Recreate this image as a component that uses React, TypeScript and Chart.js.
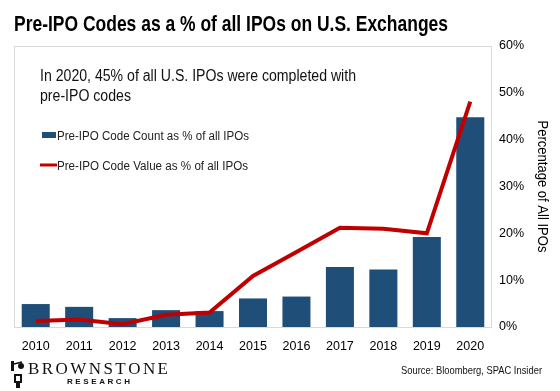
import React, { useEffect, useRef } from "react";
import { Chart, registerables } from "chart.js";

Chart.register(...registerables);

const years = ["2010", "2011", "2012", "2013", "2014", "2015", "2016", "2017", "2018", "2019", "2020"];
const countPct = [4.9, 4.3, 1.9, 3.6, 3.4, 6.1, 6.5, 12.8, 12.3, 19.2, 44.8];
const valuePct = [1.3, 1.6, 0.6, 2.6, 3.1, 10.9, 16.0, 21.2, 21.0, 20.0, 48.1];
const yTicks = [0, 10, 20, 30, 40, 50, 60];

const titleText = "Pre-IPO Codes as a % of all IPOs on U.S. Exchanges";
const noteLines = ["In 2020, 45% of all U.S. IPOs were completed with", "pre-IPO codes"];
const countLabel = "Pre-IPO Code Count as % of all IPOs";
const valueLabel = "Pre-IPO Code Value as % of all IPOs";
const axisTitle = "Percentage of All IPOs";
const sourceText = "Source: Bloomberg, SPAC Insider";

const BLUE = "#1f4e79";
const RED = "#c00000";
const SANS = "'Liberation Sans', Arial, sans-serif";

function spaced(ctx: CanvasRenderingContext2D, text: string, x: number, y: number, width: number) {
  const chars = text.split("");
  const total = chars.reduce((s, c) => s + ctx.measureText(c).width, 0);
  const gap = chars.length > 1 ? (width - total) / (chars.length - 1) : 0;
  let cx = x;
  for (const c of chars) {
    ctx.fillText(c, cx, y);
    cx += ctx.measureText(c).width + gap;
  }
}

function scaledText(ctx: CanvasRenderingContext2D, text: string, x: number, y: number, sx: number) {
  ctx.save();
  ctx.translate(x, y);
  ctx.scale(sx, 1);
  ctx.fillText(text, 0, 0);
  ctx.restore();
}

const overlay = {
  id: "overlay",
  beforeDatasetsDraw(chart: any) {
    const { ctx, chartArea } = chart;
    ctx.save();
    ctx.strokeStyle = "#d9d9d9";
    ctx.lineWidth = 1;
    ctx.strokeRect(chartArea.left + 0.5, chartArea.top + 0.5, chartArea.right - chartArea.left - 1, chartArea.bottom - chartArea.top);
    ctx.restore();
  },
  afterDraw(chart: any) {
    const { ctx, chartArea } = chart;
    ctx.save();
    ctx.fillStyle = "#000";
    ctx.textBaseline = "alphabetic";
    ctx.textAlign = "left";
    // title
    ctx.font = `bold 22px ${SANS}`;
    ctx.fillText(titleText, 14, 31, 434);
    // note
    ctx.fillStyle = "#111";
    ctx.font = `16px ${SANS}`;
    const noteScale = Math.min(1, 316 / ctx.measureText(noteLines[0]).width);
    scaledText(ctx, noteLines[0], 40, 81, noteScale);
    scaledText(ctx, noteLines[1], 40, 101, noteScale);
    // legend
    ctx.font = `12.5px ${SANS}`;
    ctx.fillStyle = BLUE;
    ctx.fillRect(42, 132, 14, 6);
    ctx.fillStyle = "#222";
    ctx.fillText(countLabel, 57, 140, 192);
    ctx.strokeStyle = RED;
    ctx.lineWidth = 3;
    ctx.beginPath();
    ctx.moveTo(40, 165);
    ctx.lineTo(57, 165);
    ctx.stroke();
    ctx.fillText(valueLabel, 57, 170, 191);
    // right axis title
    ctx.save();
    ctx.translate(542, (chartArea.top + chartArea.bottom) / 2);
    ctx.rotate(Math.PI / 2);
    ctx.textAlign = "center";
    ctx.textBaseline = "middle";
    ctx.fillStyle = "#000";
    ctx.font = `14px ${SANS}`;
    ctx.fillText(axisTitle, 0, 0, 132);
    ctx.restore();
    // source
    ctx.fillStyle = "#111";
    ctx.font = `11.5px ${SANS}`;
    ctx.textAlign = "right";
    ctx.fillText(sourceText, 542, 374, 141);
    // logo
    ctx.textAlign = "left";
    ctx.fillStyle = "#111";
    ctx.font = `17px 'Liberation Serif', 'DejaVu Serif', serif`;
    spaced(ctx, "BROWNSTONE", 28, 374, 140);
    ctx.font = `bold 8px ${SANS}`;
    spaced(ctx, "RESEARCH", 67, 384, 63);
    // lamp icon
    ctx.fillStyle = "#111";
    ctx.strokeStyle = "#111";
    ctx.lineWidth = 1.5;
    ctx.fillRect(11, 361, 3, 10);
    ctx.beginPath();
    ctx.moveTo(14, 364);
    ctx.lineTo(22, 362);
    ctx.stroke();
    ctx.beginPath();
    ctx.arc(21, 366, 3, 0, Math.PI * 2);
    ctx.fill();
    ctx.fillRect(14, 374, 8, 9);
    ctx.fillStyle = "#fff";
    ctx.fillRect(16, 376, 4, 5);
    ctx.fillStyle = "#111";
    ctx.fillRect(16, 383, 4, 5);
    ctx.restore();
  },
};

export default function App() {
  const ref = useRef<HTMLCanvasElement | null>(null);
  useEffect(() => {
    if (!ref.current) return;
    const chart = new Chart(ref.current, {
      type: "bar",
      data: {
        labels: years,
        datasets: [
          {
            type: "line",
            label: valueLabel,
            data: valuePct,
            borderColor: RED,
            backgroundColor: RED,
            borderWidth: 4,
            pointRadius: 0,
            tension: 0,
            order: 0,
            yAxisID: "y",
          } as any,
          {
            type: "bar",
            label: countLabel,
            data: countPct,
            backgroundColor: BLUE,
            barPercentage: 0.645,
            categoryPercentage: 1,
            order: 1,
            yAxisID: "y",
          },
        ],
      },
      options: {
        responsive: false,
        animation: false,
        devicePixelRatio: 1,
        layout: { padding: { left: 14, top: 46, right: 0, bottom: 30 } },
        plugins: { legend: { display: false }, tooltip: { enabled: false }, title: { display: false } },
        scales: {
          x: {
            grid: { display: false, drawTicks: false },
            border: { display: false },
            ticks: { color: "#000", font: { family: SANS, size: 12.5 }, padding: 12, maxRotation: 0 },
            afterFit: (s: any) => {
              s.height = 34;
            },
          },
          y: {
            position: "right",
            min: 0,
            max: 60,
            afterBuildTicks: (s: any) => {
              s.ticks = yTicks.map((v) => ({ value: v }));
            },
            grid: { display: false, drawTicks: false },
            border: { display: false },
            ticks: {
              color: "#000",
              font: { family: SANS, size: 12.5 },
              padding: 7,
              callback: (v: any) => `${v}%`,
            },
            afterFit: (s: any) => {
              s.width = 68;
            },
          },
        },
      },
      plugins: [overlay],
    });
    return () => chart.destroy();
  }, []);
  return (
    <div style={{ position: "absolute", left: 0, top: 0, width: 560, height: 391, background: "#fff" }}>
      <canvas ref={ref} width={560} height={391} style={{ width: 560, height: 391, display: "block" }} />
    </div>
  );
}
